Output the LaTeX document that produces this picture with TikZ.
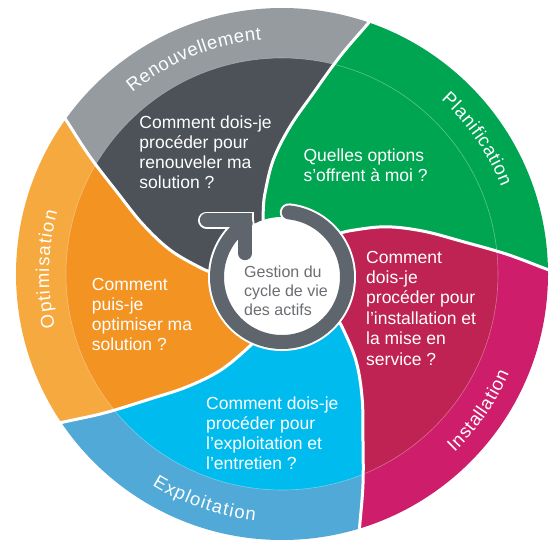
\documentclass[tikz,border=0pt]{standalone}
\usepackage{fontspec}
\setmainfont{Liberation Sans}
\usetikzlibrary{decorations.text}
\definecolor{grnA}{HTML}{00A551}
\definecolor{gryA}{HTML}{969BA0}
\definecolor{gryB}{HTML}{4C5258}
\definecolor{magA}{HTML}{CD1D6B}
\definecolor{magB}{HTML}{BF2353}
\definecolor{bluA}{HTML}{50A9D6}
\definecolor{bluB}{HTML}{00BCEE}
\definecolor{orgA}{HTML}{F6A93F}
\definecolor{orgB}{HTML}{F39322}
\definecolor{ringgray}{HTML}{5E656C}
\definecolor{ctrgray}{HTML}{6B6E72}
\newcommand\dvout[1]{-- plot[smooth,tension=0.6] coordinates {({110.8+(#1)}:53.5) ({106.3+(#1)}:66.7) ({101.9+(#1)}:82.5) ({94.4+(#1)}:114.3) ({86.9+(#1)}:147.5) ({80.2+(#1)}:183.4) ({75.1+(#1)}:225) ({71.2+(#1)}:263) ({69.7+(#1)}:282)}}
\newcommand\dvin[1]{-- plot[smooth,tension=0.6] coordinates {({69.7+(#1)}:282) ({71.2+(#1)}:263) ({75.1+(#1)}:225) ({80.2+(#1)}:183.4) ({86.9+(#1)}:147.5) ({94.4+(#1)}:114.3) ({101.9+(#1)}:82.5) ({106.3+(#1)}:66.7) ({110.8+(#1)}:53.5)}}
\newcommand\segment[4]{%
  \begin{scope}
    \clip (0,0) \dvout{#1} arc[start angle={69.7+(#1)}, end angle={69.7+(#2)}, radius=282] \dvin{#2} -- cycle;
    \fill[#3] (0,0) circle[radius=266];
    \fill[#4] (0,0) circle[radius=216];
    \draw[white, opacity=.35, line width=.6pt] (0,0) circle[radius=216];
  \end{scope}}
\newcommand\divline[1]{\draw[white, line width=3pt] ({110.8+(#1)}:53.5) \dvout{#1};}
\newcommand\bandfont{\fontsize{18.5}{20}\selectfont}
\tikzset{
  qtext/.style={text=white, inner sep=0pt, anchor=base west, font=\fontsize{17.5}{20}\selectfont},
  bandlabel/.style={decorate, decoration={text along path, text={|\color{white}\bandfont|#1}, text align={fit to path}}}
}
\begin{document}
\begin{tikzpicture}[x=1pt,y=1pt]
\useasboundingbox (-282,-265) rectangle (274,274);
\fill[white] (-282,-265) rectangle (274,274);
% segments
\segment{-70}{0}{grnA}{grnA}
\segment{0}{73.5}{gryA}{gryB}
\segment{73.5}{143}{orgA}{orgB}
\segment{-217}{-144}{bluA}{bluB}
\segment{-144}{-70}{magA}{magB}
% dividers
\divline{0}
\divline{-70}
\divline{-144}
\divline{-217}
\divline{73.5}
% band labels
\path[bandlabel=Renouvellement] (129.5:235) arc[start angle=129.5, end angle=95, radius=235];
\path[bandlabel=Planification] (47.6:236) arc[start angle=47.6, end angle=21.6, radius=236];
\path[bandlabel=Installation] (-45.9:248) arc[start angle=-45.9, end angle=-23.6, radius=248];
\path[bandlabel=Exploitation] (-121.6:248) arc[start angle=-121.6, end angle=-96.2, radius=248];
\path[bandlabel=Optimisation] (193.2:233) arc[start angle=193.2, end angle=164.5, radius=233];
% questions
\node[qtext] (qren) at (-142.7,145.7) {\begin{tabular}[t]{@{}l@{}}Comment dois-je\\procéder pour\\renouveler ma\\solution ?\end{tabular}};
\node[qtext] (qpla) at (21.3,112.3) {\begin{tabular}[t]{@{}l@{}}Quelles options\\s’offrent à moi ?\end{tabular}};
\node[qtext, font=\fontsize{17.5}{20.4}\selectfont] (qins) at (84,11) {\begin{tabular}[t]{@{}l@{}}Comment\\dois-je\\procéder pour\\l’installation et\\la mise en\\service ?\end{tabular}};
\node[qtext] (qexp) at (-76,-135) {\begin{tabular}[t]{@{}l@{}}Comment dois-je\\procéder pour\\l’exploitation et\\l’entretien ?\end{tabular}};
\node[qtext] (qopt) at (-190.3,-16.7) {\begin{tabular}[t]{@{}l@{}}Comment\\puis-je\\optimiser ma\\solution ?\end{tabular}};
% centre
\fill[white] (0,-3) circle[radius=60];
\draw[white, line width=18pt, line cap=round] ([shift={(84:65)}]0,-3) arc[start angle=84, end angle=-236, radius=65];
\draw[white, line width=17pt, line cap=round, line join=miter] (-75.5,54) -- (-37,54) -- (-37,20.5);
\draw[ringgray, line width=14pt, line cap=round] ([shift={(84:65)}]0,-3) arc[start angle=84, end angle=-236, radius=65];
\draw[ringgray, line width=13.3pt, line cap=round, line join=miter] (-75.5,54) -- (-37,54) -- (-37,20.5);
\node[anchor=base west, text=ctrgray, inner sep=0pt, font=\fontsize{16}{19}\selectfont] (ctr) at (-38,-3.7) {\begin{tabular}[t]{@{}l@{}}Gestion du\\cycle de vie\\des actifs\end{tabular}};
\end{tikzpicture}
\end{document}
